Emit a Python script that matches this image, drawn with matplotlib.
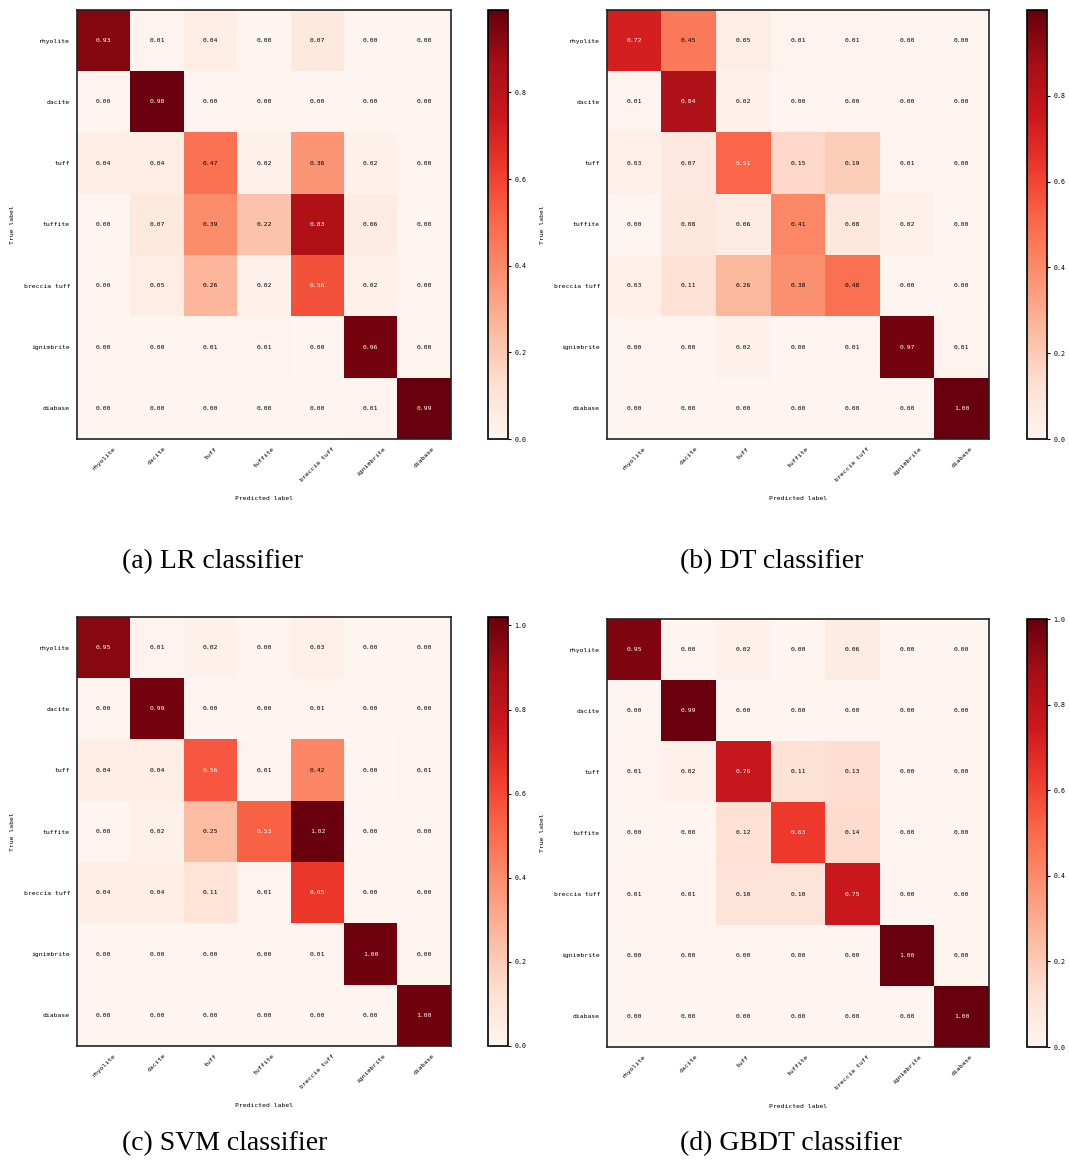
import numpy as np
import matplotlib
matplotlib.use("Agg")
import matplotlib.pyplot as plt

classes = ["rhyolite", "dacite", "tuff", "tuffite", "breccia tuff", "ignimbrite", "diabase"]

cm_lr = [
    [0.93, 0.01, 0.04, 0.00, 0.07, 0.00, 0.00],
    [0.00, 0.98, 0.00, 0.00, 0.00, 0.00, 0.00],
    [0.04, 0.04, 0.47, 0.02, 0.36, 0.02, 0.00],
    [0.00, 0.07, 0.39, 0.22, 0.83, 0.06, 0.00],
    [0.00, 0.05, 0.26, 0.02, 0.56, 0.02, 0.00],
    [0.00, 0.00, 0.01, 0.01, 0.00, 0.96, 0.00],
    [0.00, 0.00, 0.00, 0.00, 0.00, 0.01, 0.99],
]
cm_dt = [
    [0.72, 0.45, 0.05, 0.01, 0.01, 0.00, 0.00],
    [0.01, 0.84, 0.02, 0.00, 0.00, 0.00, 0.00],
    [0.03, 0.07, 0.51, 0.15, 0.19, 0.01, 0.00],
    [0.00, 0.08, 0.06, 0.41, 0.08, 0.02, 0.00],
    [0.03, 0.11, 0.26, 0.38, 0.48, 0.00, 0.00],
    [0.00, 0.00, 0.02, 0.00, 0.01, 0.97, 0.01],
    [0.00, 0.00, 0.00, 0.00, 0.00, 0.00, 1.00],
]
cm_svm = [
    [0.95, 0.01, 0.02, 0.00, 0.03, 0.00, 0.00],
    [0.00, 0.99, 0.00, 0.00, 0.01, 0.00, 0.00],
    [0.04, 0.04, 0.56, 0.01, 0.42, 0.00, 0.01],
    [0.00, 0.02, 0.25, 0.53, 1.02, 0.00, 0.00],
    [0.04, 0.04, 0.11, 0.01, 0.65, 0.00, 0.00],
    [0.00, 0.00, 0.00, 0.00, 0.01, 1.00, 0.00],
    [0.00, 0.00, 0.00, 0.00, 0.00, 0.00, 1.00],
]
cm_gbdt = [
    [0.95, 0.00, 0.02, 0.00, 0.06, 0.00, 0.00],
    [0.00, 0.99, 0.00, 0.00, 0.00, 0.00, 0.00],
    [0.01, 0.02, 0.76, 0.11, 0.13, 0.00, 0.00],
    [0.00, 0.00, 0.12, 0.63, 0.14, 0.00, 0.00],
    [0.01, 0.01, 0.10, 0.10, 0.75, 0.00, 0.00],
    [0.00, 0.00, 0.00, 0.00, 0.00, 1.00, 0.00],
    [0.00, 0.00, 0.00, 0.00, 0.00, 0.00, 1.00],
]

captions = ["(a) LR classifier", "(b) DT classifier", "(c) SVM classifier", "(d) GBDT classifier"]
cbar_ticks = [[0, 0.2, 0.4, 0.6, 0.8], [0, 0.2, 0.4, 0.6, 0.8],
              [0, 0.2, 0.4, 0.6, 0.8, 1.0], [0, 0.2, 0.4, 0.6, 0.8, 1.0]]

W, H = 1069, 1161
fig = plt.figure(figsize=(W / 100, H / 100), dpi=100)

# pixel boxes: heatmap (left, top, right, bottom), colorbar x range, caption position
panels = [
    ((77, 10, 451, 439), (488, 508), (122, 562)),
    ((607, 10, 989, 439), (1027, 1047), (680, 562)),
    ((77, 617, 451, 1046), (488, 508), (122, 1144)),
    ((607, 619, 989, 1047), (1027, 1047), (680, 1144)),
]

small = dict(family="DejaVu Sans Mono", fontsize=4.6)

for cm, cap, ticks, (box, cbx, capxy) in zip([cm_lr, cm_dt, cm_svm, cm_gbdt], captions, cbar_ticks, panels):
    cm = np.array(cm)
    l, t, r, b = box
    ax = fig.add_axes([l / W, 1 - b / H, (r - l) / W, (b - t) / H])
    cax = fig.add_axes([cbx[0] / W, 1 - b / H, (cbx[1] - cbx[0]) / W, (b - t) / H])
    im = ax.imshow(cm, cmap="Reds", vmin=0, vmax=cm.max(), aspect="auto", interpolation="nearest")
    thresh = cm.max() / 2.0
    for i in range(cm.shape[0]):
        for j in range(cm.shape[1]):
            ax.text(j, i, format(cm[i, j], ".2f"), ha="center", va="center",
                    color="white" if cm[i, j] > thresh else "black", **small)
    ax.set_xticks(range(len(classes)))
    ax.set_xticklabels(classes, rotation=45, **small)
    ax.set_yticks(range(len(classes)))
    ax.set_yticklabels(classes, **small)
    ax.tick_params(length=0, pad=5)
    ax.set_xlabel("Predicted label", labelpad=10, **small)
    ax.set_ylabel("True label", labelpad=6, **small)
    for s in ax.spines.values():
        s.set_linewidth(1.2)
        s.set_color("#222222")
    cb = fig.colorbar(im, cax=cax, ticks=ticks)
    cb.ax.tick_params(length=2.5, width=0.8, pad=2)
    for lab in cb.ax.get_yticklabels():
        lab.set_fontfamily("DejaVu Sans Mono")
        lab.set_fontsize(4.8)
    cb.outline.set_linewidth(1.2)
    fig.text(capxy[0] / W, 1 - capxy[1] / H, cap, ha="left", va="center",
             family="Liberation Serif", fontsize=20)

fig.savefig("out.png", dpi=100)
